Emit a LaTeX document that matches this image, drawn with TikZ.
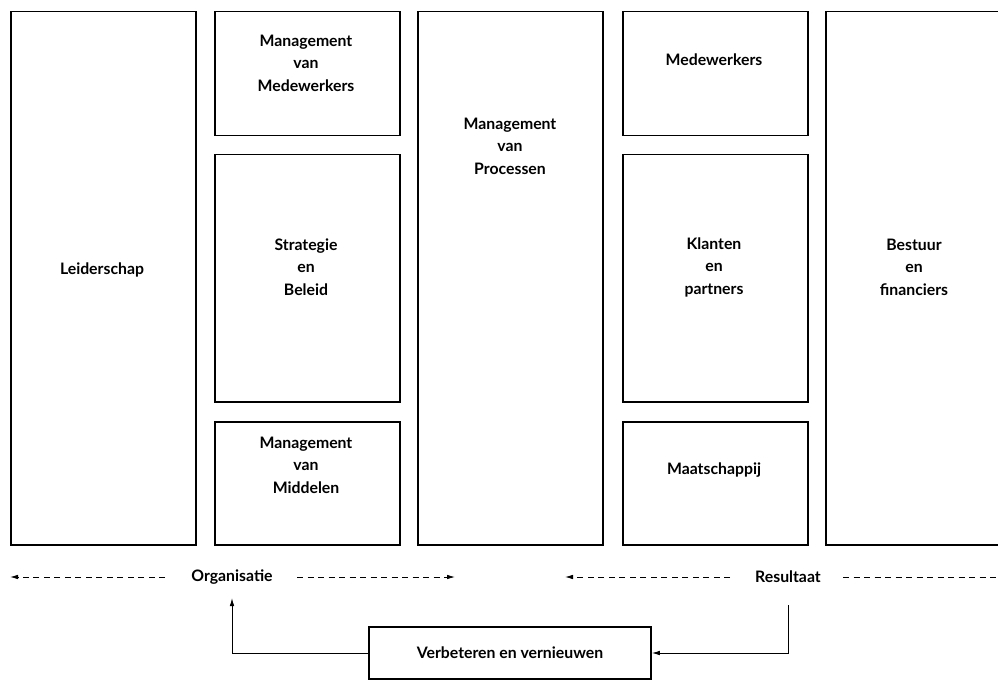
\documentclass[tikz,border=0pt]{standalone}
\usepackage{fontspec}
\setmainfont{Lato}
\usetikzlibrary{arrows.meta}
\begin{document}
\begin{tikzpicture}[x=1pt,y=-1pt,
  box/.style={draw=black,line width=1.5pt,minimum width=#1,anchor=north west,inner sep=0pt},
  lbl/.style={font=\bfseries\fontsize{15.8}{22.5}\selectfont,align=center,inner sep=1pt},
  dashline/.style={dash pattern=on 6pt off 4.5pt,line width=0.8pt},
  tipped/.style={-{Latex[length=8pt,width=4.5pt]}},
  conn/.style={line width=0.9pt,-{Latex[length=8pt,width=4.5pt]}}]
\useasboundingbox (0,0) rectangle (998,692);
\begin{scope}
\clip (0,0) rectangle (998,692);
% boxes
\node[box=185pt,minimum height=533pt] (b1) at (10,11) {};
\node[box=185pt,minimum height=124pt] (b2a) at (214,11) {};
\node[box=185pt,minimum height=247pt] (b2b) at (214,154) {};
\node[box=185pt,minimum height=123pt] (b2c) at (214,421) {};
\node[box=185pt,minimum height=533pt] (b3) at (417,11) {};
\node[box=185pt,minimum height=124pt] (b4a) at (622,11) {};
\node[box=185pt,minimum height=247pt] (b4b) at (622,154) {};
\node[box=185pt,minimum height=123pt] (b4c) at (622,421) {};
\node[box=190pt,minimum height=533pt] (b5) at (825,11) {};
\end{scope}
% labels
\node[lbl] (t1) at (102,270) {Leiderschap};
\node[lbl] (t2a) at (306,63) {Management\\van\\Medewerkers};
\node[lbl] (t2b) at (306,267) {Strategie\\en\\Beleid};
\node[lbl] (t2c) at (306,465) {Management\\van\\Middelen};
\node[lbl] (t3) at (510,146) {Management\\van\\Processen};
\node[lbl] (t4a) at (714,60) {Medewerkers};
\node[lbl] (t4b) at (714,267) {Klanten\\en\\partners};
\node[lbl] (t4c) at (714,470) {Maatschappij};
\node[lbl] (t5) at (914,267) {Bestuur\\en\\financiers};
% bottom
\node[lbl] (org) at (232,577) {Organisatie};
\node[lbl] (res) at (788,577) {Resultaat};
\node[box=282pt,minimum height=52pt,anchor=center] (vv) at (510,653) {};
\node[lbl] (vvt) at (510,653) {Verbeteren en vernieuwen};
\coordinate (oL) at (10,577);
\coordinate (oR) at (455,577);
\coordinate (rL) at (565,577);
\coordinate (rR) at (998,577);
\coordinate (oUp) at (232,598);
\coordinate (rDn) at (788,605);
\draw[dashline,tipped] (165,577) -- (oL);
\draw[dashline,tipped] (297,577) -- (oR);
\draw[dashline,tipped] (730,577) -- (rL);
\draw[dashline] (843,577) -- (rR);
\draw[conn] (vv.west) -| (oUp);
\draw[conn] (rDn) |- (vv.east);
\end{tikzpicture}
\end{document}
